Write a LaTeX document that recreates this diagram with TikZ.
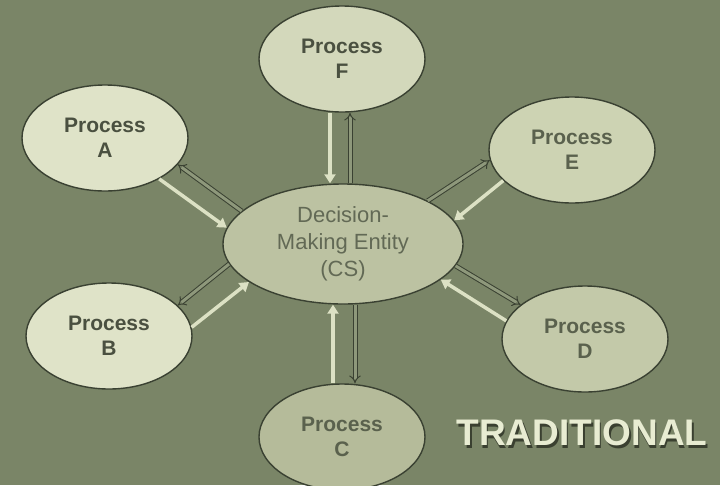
\documentclass[tikz,border=0pt]{standalone}
\usepackage{fontspec}
\setmainfont{Liberation Sans}
\usetikzlibrary{shapes.geometric,arrows.meta}
\definecolor{bg}{HTML}{7A8567}
\definecolor{outl}{HTML}{3A4132}
\definecolor{fillA}{HTML}{DFE3C8}
\definecolor{fillF}{HTML}{D3D8BB}
\definecolor{fillE}{HTML}{CDD3B3}
\definecolor{fillD}{HTML}{C3C9A9}
\definecolor{fillC}{HTML}{B5BB9A}
\definecolor{fillM}{HTML}{BCC2A2}
\definecolor{txtdark}{HTML}{4A5040}
\definecolor{txtmid}{HTML}{5A614D}
\definecolor{txtctr}{HTML}{626955}
\definecolor{arrlight}{HTML}{DCE1C4}
\definecolor{arrin}{HTML}{8E987B}
\definecolor{titlecol}{HTML}{E8ECD2}
\definecolor{shadowcol}{HTML}{3A4030}
\tikzset{
  proc/.style={ellipse, draw=outl, line width=1.4pt, minimum width=166pt, minimum height=106pt, inner sep=0pt, align=center, font=\fontsize{21}{25}\selectfont\bfseries},
  ctrnode/.style={ellipse, draw=outl, line width=1.4pt, minimum width=240pt, minimum height=120pt, inner sep=0pt, align=center, fill=fillM, text=txtctr, font=\fontsize{22}{27}\selectfont},
  lightarr/.style={draw=arrlight, line width=3.5pt, -{Triangle[width=11pt,length=9pt]}},
  darkarr/.style={draw=outl, line width=1pt, double=arrin, double distance=3pt, -{Implies[scale=1.3]}},
  titletxt/.style={font=\fontsize{37}{40}\selectfont\bfseries, anchor=base}
}
\begin{document}
\begin{tikzpicture}[x=1pt,y=-1pt]
\fill[bg] (0,0) rectangle (720,485);
\useasboundingbox (0,0) rectangle (720,485);
\node[ctrnode] (M) at (343,244) {Decision-\\Making Entity\\(CS)};
\node[proc, fill=fillF, text=txtdark] (F) at (342,59) {Process\\F};
\node[proc, fill=fillA, text=txtdark] (A) at (105,138) {Process\\A};
\node[proc, fill=fillE, text=txtmid] (E) at (572,150) {Process\\E};
\node[proc, fill=fillA, text=txtdark] (B) at (109,336) {Process\\B};
\node[proc, fill=fillD, text=txtmid] (D) at (585,339) {Process\\D};
\node[proc, fill=fillC, text=txtmid] (C) at (342,437) {Process\\C};
% F
\draw[lightarr] ([xshift=-12pt]F.south) -- ([xshift=-12pt]F.south |- M.north);
\draw[darkarr] ([xshift=8pt]F.south |- M.north) -- ([xshift=8pt]F.south);
% C
\draw[lightarr] ([xshift=-9pt]C.north) -- ([xshift=-9pt]C.north |- M.south);
\draw[darkarr] ([xshift=13pt]C.north |- M.south) -- ([xshift=13pt]C.north);
% A
\draw[lightarr] (A.-37) -- (M.172);
\draw[darkarr] (M.162) -- (A.-20);
% E
\draw[darkarr] (M.27) -- (E.-173);
\draw[lightarr] (E.204) -- (M.12);
% B
\draw[darkarr] (M.190) -- (B.24);
\draw[lightarr] (B.6) -- (M.202);
% D
\draw[darkarr] (M.-11) -- (D.152);
\draw[lightarr] (D.167) -- (M.-20);
% title with shadow in one node
\node[titletxt, text=titlecol] (T) at (582,445) {\rlap{\hspace{1.5pt}\raisebox{-3pt}{\color{shadowcol}TRADITIONAL}}TRADITIONAL};
\end{tikzpicture}
\end{document}
